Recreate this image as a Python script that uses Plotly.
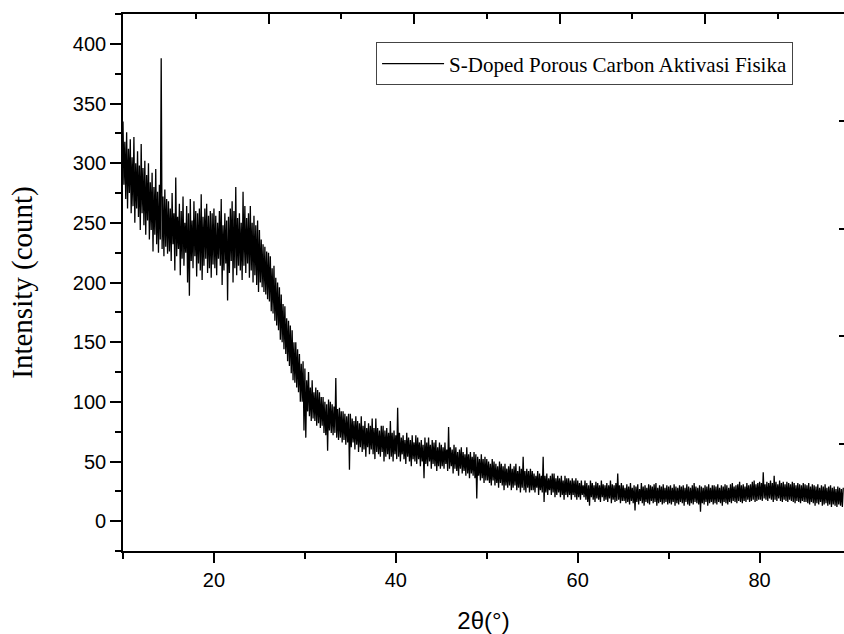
import numpy as np
import plotly.graph_objects as go

# 2-theta scan grid (degrees), step 0.1
two_theta = np.round(np.arange(10.0, 89.25, 0.1), 1)

# "_hi": upper excursions of the noise band at even tenths (10.0, 10.2, ...)
# "_lo": lower excursions of the noise band at odd tenths (10.1, 10.3, ...)
int_10_15_hi = [335, 318, 326, 312, 320, 305, 322, 300, 310, 298, 316, 296, 302, 290, 300, 284, 292, 280, 295, 276, 282, 388, 272, 278, 270]
int_10_15_lo = [282, 270, 262, 275, 258, 264, 250, 262, 255, 244, 258, 248, 240, 252, 236, 244, 226, 240, 232, 225, 236, 228, 222, 230, 224]
int_15_20_hi = [268, 262, 275, 258, 288, 255, 266, 260, 272, 250, 264, 258, 270, 252, 268, 260, 258, 262, 274, 255, 262, 266, 256, 260, 258]
int_15_20_lo = [226, 218, 232, 210, 222, 228, 206, 220, 214, 225, 200, 189, 218, 212, 222, 205, 216, 210, 202, 214, 220, 208, 212, 204, 215]
int_20_25_hi = [262, 256, 250, 260, 270, 248, 258, 252, 255, 262, 268, 260, 280, 254, 258, 250, 276, 264, 254, 258, 264, 250, 256, 248, 252]
int_20_25_lo = [212, 206, 220, 214, 198, 210, 216, 185, 208, 218, 200, 212, 206, 214, 210, 202, 214, 208, 216, 204, 210, 200, 206, 198, 192]
int_25_30_hi = [244, 236, 232, 230, 226, 225, 222, 212, 214, 204, 200, 196, 190, 182, 180, 170, 168, 164, 160, 150, 150, 144, 140, 132, 134]
int_25_30_lo = [200, 196, 192, 190, 186, 184, 176, 174, 168, 164, 160, 152, 150, 144, 140, 134, 130, 124, 118, 116, 112, 108, 100, 100, 76]
int_30_35_hi = [128, 118, 125, 112, 118, 108, 112, 110, 108, 104, 104, 100, 98, 102, 100, 98, 96, 120, 94, 95, 92, 92, 90, 88, 90]
int_30_35_lo = [70, 92, 88, 84, 86, 84, 80, 82, 78, 80, 74, 72, 59, 76, 74, 72, 74, 70, 68, 70, 66, 68, 64, 66, 43]
int_35_40_hi = [90, 86, 84, 88, 84, 82, 88, 80, 84, 78, 82, 80, 86, 78, 86, 78, 76, 80, 80, 76, 78, 74, 84, 74, 76]
int_35_40_lo = [62, 66, 60, 64, 58, 62, 58, 60, 54, 62, 56, 60, 56, 52, 58, 56, 54, 58, 50, 54, 56, 52, 54, 50, 56]
int_40_45_hi = [72, 95, 74, 70, 72, 68, 74, 70, 68, 72, 66, 72, 70, 66, 68, 64, 70, 66, 70, 64, 68, 66, 68, 62, 66]
int_40_45_lo = [52, 54, 50, 56, 52, 48, 54, 50, 46, 52, 50, 48, 52, 46, 50, 36, 48, 46, 50, 44, 48, 46, 42, 46, 44]
int_45_50_hi = [64, 62, 66, 60, 79, 62, 60, 64, 62, 58, 60, 62, 58, 56, 62, 56, 58, 54, 58, 56, 54, 52, 56, 52, 54]
int_45_50_lo = [46, 44, 48, 42, 44, 46, 40, 44, 42, 38, 44, 40, 42, 38, 40, 36, 40, 38, 36, 19, 38, 34, 36, 32, 34]
int_50_55_hi = [52, 50, 48, 52, 50, 48, 46, 50, 48, 46, 48, 44, 46, 48, 44, 46, 48, 42, 46, 44, 54, 42, 44, 42, 44]
int_50_55_lo = [34, 32, 30, 34, 30, 32, 28, 32, 30, 26, 30, 28, 30, 26, 28, 30, 26, 28, 24, 28, 26, 24, 28, 24, 26]
int_55_60_hi = [42, 40, 38, 42, 40, 38, 54, 38, 40, 36, 38, 40, 40, 36, 38, 36, 38, 34, 38, 36, 36, 34, 36, 34, 36]
int_55_60_lo = [26, 24, 28, 22, 26, 24, 16, 24, 22, 26, 22, 24, 20, 22, 24, 20, 22, 18, 22, 20, 22, 18, 22, 20, 18]
int_60_65_hi = [34, 32, 34, 30, 34, 32, 30, 34, 32, 30, 33, 32, 30, 34, 31, 30, 32, 30, 34, 31, 30, 32, 40, 30, 32]
int_60_65_lo = [20, 18, 22, 20, 18, 16, 13, 20, 18, 16, 19, 18, 16, 20, 17, 18, 16, 19, 15, 18, 16, 17, 18, 15, 17]
int_65_70_hi = [30, 28, 31, 29, 32, 28, 30, 29, 31, 27, 32, 29, 30, 28, 31, 30, 29, 31, 32, 28, 30, 29, 31, 28, 30]
int_65_70_lo = [17, 15, 16, 14, 17, 15, 9, 16, 14, 17, 15, 13, 16, 15, 14, 17, 15, 16, 13, 15, 16, 14, 15, 16, 14]
int_70_75_hi = [29, 30, 28, 31, 29, 28, 30, 29, 30, 28, 31, 29, 28, 30, 32, 29, 28, 30, 29, 28, 30, 29, 31, 28, 30]
int_70_75_lo = [15, 14, 16, 13, 15, 14, 16, 15, 13, 16, 14, 13, 15, 14, 16, 15, 14, 8, 15, 14, 16, 13, 15, 16, 14]
int_75_80_hi = [30, 29, 31, 28, 30, 29, 31, 30, 28, 31, 32, 29, 30, 31, 33, 30, 31, 29, 32, 30, 31, 33, 34, 31, 32]
int_75_80_lo = [15, 14, 16, 15, 13, 16, 15, 14, 16, 15, 17, 16, 15, 17, 16, 15, 17, 16, 18, 16, 17, 18, 16, 17, 18]
int_80_85_hi = [33, 32, 41, 31, 33, 32, 34, 32, 38, 33, 31, 34, 32, 33, 31, 33, 32, 31, 33, 32, 30, 32, 31, 30, 32]
int_80_85_lo = [18, 17, 19, 18, 17, 19, 18, 16, 18, 17, 19, 17, 16, 18, 17, 16, 18, 17, 16, 15, 17, 16, 15, 17, 16]
int_85_90_hi = [31, 30, 32, 29, 31, 30, 29, 31, 28, 30, 29, 31, 28, 29, 30, 28, 29, 27, 29, 28, 27, 28]
int_85_90_lo = [16, 15, 14, 16, 15, 13, 15, 14, 16, 13, 14, 15, 13, 14, 12, 14, 13, 12, 14, 13, 12]

blocks = [
    (int_10_15_hi, int_10_15_lo), (int_15_20_hi, int_15_20_lo), (int_20_25_hi, int_20_25_lo),
    (int_25_30_hi, int_25_30_lo), (int_30_35_hi, int_30_35_lo), (int_35_40_hi, int_35_40_lo),
    (int_40_45_hi, int_40_45_lo), (int_45_50_hi, int_45_50_lo), (int_50_55_hi, int_50_55_lo),
    (int_55_60_hi, int_55_60_lo), (int_60_65_hi, int_60_65_lo), (int_65_70_hi, int_65_70_lo),
    (int_70_75_hi, int_70_75_lo), (int_75_80_hi, int_75_80_lo), (int_80_85_hi, int_80_85_lo),
    (int_85_90_hi, int_85_90_lo),
]

intensity = []
for hi, lo in blocks:
    for i, v in enumerate(hi):
        intensity.append(v)
        if i < len(lo):
            intensity.append(lo[i])

n = min(len(two_theta), len(intensity))

series_name = "S-Doped Porous Carbon Aktivasi Fisika"
x_title = "2θ(°)"
y_title = "Intensity (count)"
x_range = [10, 89.28]
y_range = [-25, 425]

SANS = "Liberation Sans, Arial, sans-serif"
SERIF = "Liberation Serif, Times New Roman, serif"

fig = go.Figure()
fig.add_trace(go.Scatter(x=two_theta[:n], y=intensity[:n], mode="lines",
                         line=dict(color="black", width=1.3, simplify=False),
                         name=series_name))
# helper trace so the top / right frame axes are drawn
fig.add_trace(go.Scatter(x=[x_range[0]], y=[None], xaxis="x2", yaxis="y2",
                         mode="lines", showlegend=False, hoverinfo="skip"))

tickfont = dict(family=SANS, size=20, color="black")

fig.update_layout(
    template="none",
    width=844, height=634,
    margin=dict(l=123, r=0, t=14, b=83, autoexpand=False),
    paper_bgcolor="white", plot_bgcolor="white",
    showlegend=True,
    legend=dict(x=0.351, y=0.947, xanchor="left", yanchor="top",
                bgcolor="white", bordercolor="#444", borderwidth=1,
                font=dict(family=SERIF, size=21, color="black"),
                itemwidth=62),
    xaxis=dict(range=x_range, tick0=0, dtick=20, ticks="outside", ticklen=10,
               tickwidth=1.5, tickcolor="black", showline=True, linecolor="black",
               linewidth=1.6, showgrid=False, zeroline=False, tickfont=tickfont,
               automargin=False,
               minor=dict(ticks="outside", ticklen=6, tickwidth=1.5, tickcolor="black",
                          tick0=0, dtick=10, showgrid=False),
               title=dict(text=x_title, font=dict(family=SANS, size=24, color="black"),
                          standoff=22)),
    xaxis2=dict(overlaying="x", side="top", anchor="y", range=x_range,
                tick0=10, dtick=16, ticks="inside", ticklen=10, tickwidth=1.5,
                tickcolor="black", showticklabels=False, showline=True,
                linecolor="black", linewidth=1.6, showgrid=False, zeroline=False,
                automargin=False,
                minor=dict(ticks="inside", ticklen=5, tickwidth=1.5, tickcolor="black",
                           tick0=10, dtick=8, showgrid=False)),
    yaxis=dict(range=y_range, tick0=0, dtick=50, ticks="outside", ticklen=11,
               tickwidth=1.5, tickcolor="black", showline=True, linecolor="black",
               linewidth=1.6, showgrid=False, zeroline=False, tickfont=tickfont,
               automargin=False,
               minor=dict(ticks="outside", ticklen=6, tickwidth=1.5, tickcolor="black",
                          tick0=0, dtick=25, showgrid=False),
               title=dict(text=y_title, font=dict(family=SERIF, size=29, color="black"),
                          standoff=32)),
    yaxis2=dict(overlaying="y", side="right", anchor="x", range=y_range,
                tick0=-25, dtick=90, ticks="inside", ticklen=5, tickwidth=1.5,
                tickcolor="black", showticklabels=False, showline=False,
                showgrid=False, zeroline=False, automargin=False),
)

fig.write_html("out.html")
